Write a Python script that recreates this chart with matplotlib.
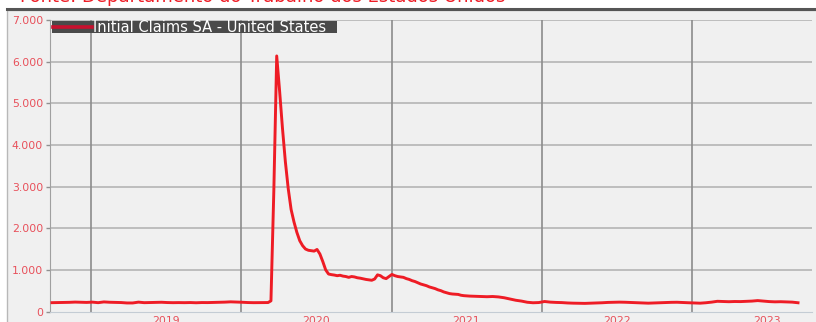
# Initial Claims SA - United States (weekly, thousands)

import matplotlib
matplotlib.use("Agg")
from matplotlib import pyplot as plt
from matplotlib.patches import Rectangle
from matplotlib.lines import Line2D
import pandas as pd


# data (thousands)

dates = [
    "2018-09-29", "2018-10-13", "2018-10-27", "2018-11-10", "2018-11-24", "2018-12-08", "2018-12-22",
    "2019-01-05", "2019-01-19", "2019-02-02", "2019-02-16", "2019-03-02", "2019-03-16", "2019-03-30",
    "2019-04-13", "2019-04-27", "2019-05-11", "2019-05-25", "2019-06-08", "2019-06-22", "2019-07-06",
    "2019-07-20", "2019-08-03", "2019-08-17", "2019-08-31", "2019-09-14", "2019-09-28", "2019-10-12",
    "2019-10-26", "2019-11-09", "2019-11-23", "2019-12-07", "2019-12-21", "2020-01-04", "2020-01-18",
    "2020-02-01", "2020-02-15", "2020-02-29", "2020-03-07", "2020-03-14",
    "2020-03-21", "2020-03-28", "2020-04-04", "2020-04-11", "2020-04-18", "2020-04-25", "2020-05-02",
    "2020-05-09", "2020-05-16", "2020-05-23", "2020-05-30", "2020-06-06", "2020-06-13", "2020-06-20",
    "2020-06-27", "2020-07-04", "2020-07-11", "2020-07-18", "2020-07-25", "2020-08-01", "2020-08-08",
    "2020-08-15", "2020-08-22", "2020-08-29", "2020-09-05", "2020-09-12", "2020-09-19", "2020-09-26",
    "2020-10-03", "2020-10-10", "2020-10-17", "2020-10-24", "2020-10-31", "2020-11-07", "2020-11-14",
    "2020-11-21", "2020-11-28", "2020-12-05", "2020-12-12", "2020-12-19", "2020-12-26",
    "2021-01-02", "2021-01-09", "2021-01-16", "2021-01-23", "2021-01-30", "2021-02-06", "2021-02-13",
    "2021-02-20", "2021-02-27", "2021-03-06", "2021-03-13", "2021-03-20", "2021-03-27", "2021-04-03",
    "2021-04-10", "2021-04-17", "2021-04-24", "2021-05-01", "2021-05-08", "2021-05-15", "2021-05-22",
    "2021-05-29", "2021-06-05", "2021-06-12", "2021-06-19", "2021-06-26", "2021-07-10", "2021-07-24",
    "2021-08-07", "2021-08-21", "2021-09-04", "2021-09-18", "2021-10-02", "2021-10-16", "2021-10-30",
    "2021-11-13", "2021-11-27", "2021-12-11", "2021-12-25",
    "2022-01-08", "2022-01-22", "2022-02-05", "2022-02-19", "2022-03-05", "2022-03-19", "2022-04-02",
    "2022-04-16", "2022-04-30", "2022-05-14", "2022-05-28", "2022-06-11", "2022-06-25", "2022-07-09",
    "2022-07-23", "2022-08-06", "2022-08-20", "2022-09-03", "2022-09-17", "2022-10-01", "2022-10-15",
    "2022-10-29", "2022-11-12", "2022-11-26", "2022-12-10", "2022-12-24",
    "2023-01-07", "2023-01-21", "2023-02-04", "2023-02-18", "2023-03-04", "2023-03-18", "2023-04-01",
    "2023-04-15", "2023-04-29", "2023-05-13", "2023-05-27", "2023-06-10", "2023-06-24", "2023-07-08",
    "2023-07-22", "2023-08-05", "2023-08-19", "2023-09-02", "2023-09-16",
]

claims = [
    212, 214, 216, 220, 226, 222, 218,
    225, 212, 230, 222, 218, 215, 205,
    205, 225, 212, 215, 220, 222, 215,
    212, 214, 212, 215, 210, 215, 214,
    217, 222, 225, 232, 228, 222, 215,
    212, 214, 216, 215, 256,
    2900, 6137, 5300, 4400, 3600, 2950, 2450,
    2150, 1900, 1700, 1580, 1500, 1470, 1460,
    1450, 1490, 1380, 1200, 1000, 900, 885,
    875, 860, 870, 850, 840, 820, 840,
    830, 810, 800, 785, 770, 760, 750,
    780, 880, 860, 810, 790, 840,
    890, 860, 840, 830, 820, 790, 770,
    740, 720, 690, 660, 640, 620, 590,
    570, 550, 520, 500, 470, 450, 430,
    420, 415, 410, 390, 380, 370, 365,
    360, 355, 360, 350, 330, 300, 270,
    250, 222, 210, 215,
    240, 225, 218, 214, 205, 200, 198,
    195, 200, 205, 210, 218, 222, 225,
    222, 216, 210, 205, 200, 205, 212,
    215, 220, 222, 215, 210,
    205, 200, 210, 225, 245, 240, 235,
    240, 238, 245, 250, 262, 250, 238,
    232, 235, 230, 225, 210,
]

year_lines = ["2019-01-01", "2020-01-01", "2021-01-01", "2022-01-01", "2023-01-01"]
year_labels = ["2019", "2020", "2021", "2022", "2023"]
year_mids = ["2019-07-02", "2020-07-02", "2021-07-02", "2022-07-02", "2023-07-02"]
y_ticks = [0, 1000, 2000, 3000, 4000, 5000, 6000, 7000]

df = pd.DataFrame({"date": pd.to_datetime(dates), "claims": claims})

red = "#ee1c25"
lbl_red = "#e8505a"
W, H = 816, 322


fig = plt.figure(figsize=(W / 100, H / 100), dpi=100)
fig.set_facecolor("white")

# outer light panel + dark top rule (behind the axes)
fig.patches.append(Rectangle((7 / W, -0.01), 1, (H - 10) / H + 0.01, transform=fig.transFigure,
                             facecolor="#f0f0f0", edgecolor="#b8b8b8", lw=1, zorder=-5))
fig.lines.append(Line2D([7 / W, 1], [1 - 9 / H, 1 - 9 / H], transform=fig.transFigure,
                        color="#555555", lw=2.2, zorder=-4))

# cut-off title above the panel
fig.text(20 / W, 1 - 2.5 / H, "Fonte: Departamento do Trabalho dos Estados Unidos",
         color=red, fontsize=13, va="baseline", ha="left")

ax = fig.add_axes([50 / W, (H - 311.5) / H, 762 / W, 291.5 / H])
ax.set_facecolor("#f0f0f0")

ax.plot(df["date"], df["claims"], color=red, lw=2.1, zorder=3, solid_joinstyle="round")

ax.set_ylim(0, 7000)
ax.set_xlim(pd.Timestamp("2018-09-24"), pd.Timestamp("2023-10-20"))

ax.set_yticks(y_ticks)
ax.set_yticklabels([f"{v:,}".replace(",", ".") for v in y_ticks])
ax.set_xticks(pd.to_datetime(year_lines))
ax.set_xticklabels([])
ax.set_xticks(pd.to_datetime(year_mids), minor=True)
ax.set_xticklabels(year_labels, minor=True)

ax.tick_params(axis="y", colors="#909090", labelcolor=lbl_red, labelsize=7.8, length=3, width=1, pad=2)
ax.tick_params(axis="x", which="major", length=0)
ax.tick_params(axis="x", which="minor", length=0, labelcolor=lbl_red, labelsize=7.8, pad=3)

for v in y_ticks[1:]:
    ax.axhline(v, color="#b4b4b4", lw=1.2, zorder=1)
for d in year_lines:
    ax.axvline(pd.Timestamp(d), color="#8c8c8c", lw=1.2, zorder=1)

for s in ["top", "right"]:
    ax.spines[s].set_visible(False)
ax.spines["left"].set_color("#a0a0a0")
ax.spines["bottom"].set_color("#c4ccd4")

# legend box, drawn by hand
fig.patches.append(Rectangle((52 / W, (H - 33) / H), 285 / W, 12 / H, transform=fig.transFigure,
                             facecolor="#4a4a4a", edgecolor="none", zorder=5))
fig.lines.append(Line2D([53 / W, 92 / W], [(H - 27) / H, (H - 27) / H], transform=fig.transFigure,
                        color="#c8102e", lw=2.6, zorder=6))
fig.text(93 / W, (H - 27) / H, "Initial Claims SA - United States", color="white",
         fontsize=10.5, va="center", ha="left", zorder=7)

fig.savefig("out.png", dpi=100)
